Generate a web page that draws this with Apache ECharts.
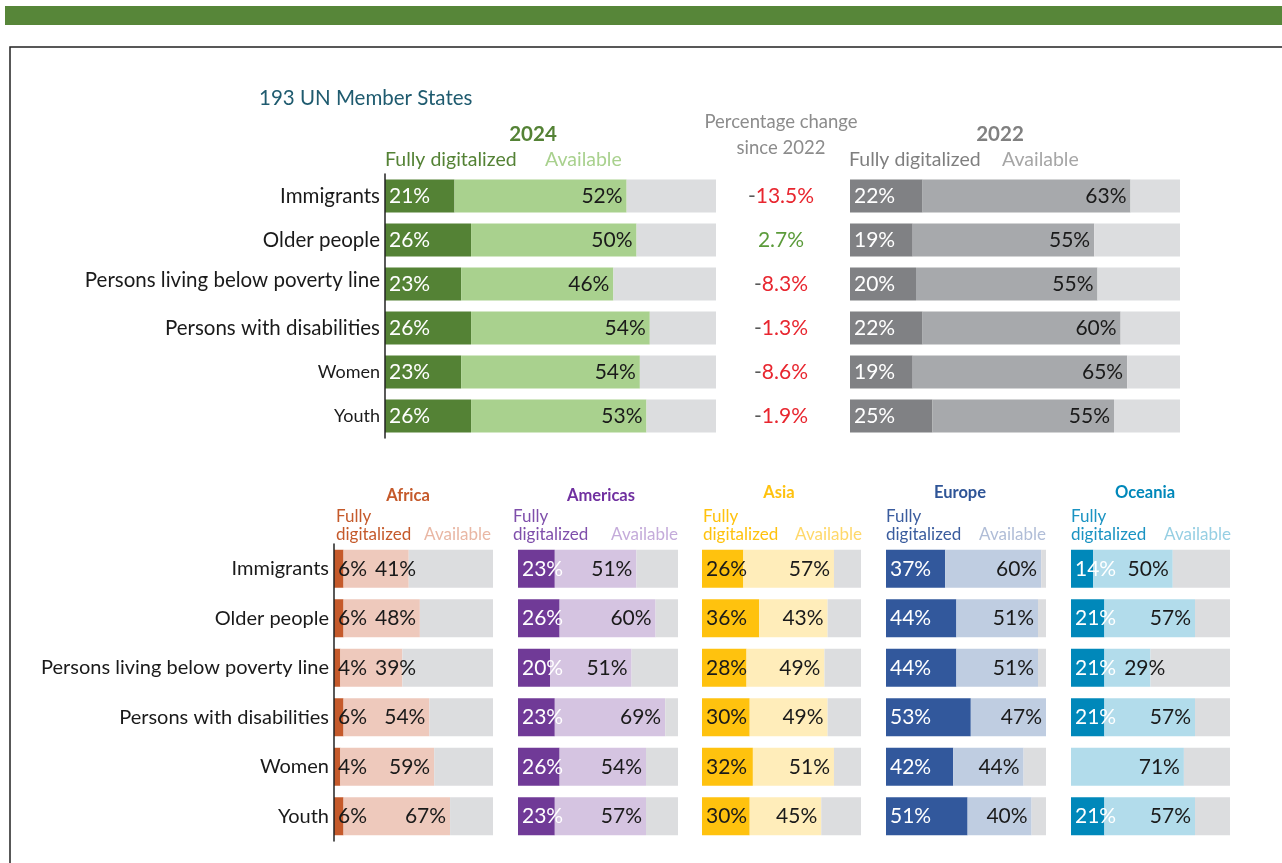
<!DOCTYPE html>
<html>
<head>
<meta charset="utf-8">
<title>Digital services for vulnerable groups</title>
<script src="https://cdn.jsdelivr.net/npm/echarts@6.0.0/dist/echarts.min.js"></script>
<style>
  html, body { margin: 0; padding: 0; background: #ffffff; }
  #chart { width: 1282px; height: 863px; }
</style>
</head>
<body>
<div id="chart"></div>
<script>
// ---- data -------------------------------------------------------------
const groups = ['Immigrants', 'Older people', 'Persons living below poverty line',
                'Persons with disabilities', 'Women', 'Youth'];

const world2024Fully = [21, 26, 23, 26, 23, 26];
const world2024Avail = [52, 50, 46, 54, 54, 53];
const world2022Fully = [22, 19, 20, 22, 19, 25];
const world2022Avail = [63, 55, 55, 60, 65, 55];
const changeSince2022 = [-13.5, 2.7, -8.3, -1.3, -8.6, -1.9];

const regionNames = ['Africa', 'Americas', 'Asia', 'Europe', 'Oceania'];
const africaFully   = [6, 6, 4, 6, 4, 6];
const africaAvail   = [41, 48, 39, 54, 59, 67];
const americasFully = [23, 26, 20, 23, 26, 23];
const americasAvail = [51, 60, 51, 69, 54, 57];
const asiaFully     = [26, 36, 28, 30, 32, 30];
const asiaAvail     = [57, 43, 49, 49, 51, 45];
const europeFully   = [37, 44, 44, 53, 42, 51];
const europeAvail   = [60, 51, 51, 47, 44, 40];
const oceaniaFully  = [14, 21, 21, 21, 0, 21];
const oceaniaAvail  = [50, 57, 29, 57, 71, 57];

// ---- styling ----------------------------------------------------------
const FONT = 'Lato, "Liberation Sans", sans-serif';
const GREY_REST = '#DCDDDF';
const TEXT_DARK = '#1a1a1a';
const LABEL_SIZE = 21;

const measureCtx = document.createElement('canvas').getContext('2d');
function textWidth(str, size) {
  measureCtx.font = size + 'px ' + FONT;
  return measureCtx.measureText(str).width;
}

// panel layout (pixels)
const topBlock = { top: 174, height: 264, barWidth: 33 };
const bottomBlock = { top: 544, height: 297, barWidth: 38 };

const panels = [
  { left: 385, width: 331, block: topBlock, fully: world2024Fully, avail: world2024Avail,
    dark: '#548235', light: '#A9D18E', fullyText: '#ffffff', axis: 'top' },
  { left: 850, width: 330, block: topBlock, fully: world2022Fully, avail: world2022Avail,
    dark: '#808184', light: '#A7A9AC', fullyText: '#ffffff', axis: 'change' },
  { left: 334, width: 159, block: bottomBlock, fully: africaFully, avail: africaAvail,
    dark: '#C55A2B', light: '#EEC9BC', fullyText: TEXT_DARK, axis: 'bottom' },
  { left: 518, width: 160, block: bottomBlock, fully: americasFully, avail: americasAvail,
    dark: '#703A97', light: '#D5C4E1', fullyText: '#ffffff', axis: 'none' },
  { left: 702, width: 159, block: bottomBlock, fully: asiaFully, avail: asiaAvail,
    dark: '#FFC20E', light: '#FFEDBA', fullyText: TEXT_DARK, axis: 'none' },
  { left: 886, width: 160, block: bottomBlock, fully: europeFully, avail: europeAvail,
    dark: '#32589C', light: '#BFCDE1', fullyText: '#ffffff', axis: 'none' },
  { left: 1071, width: 159, block: bottomBlock, fully: oceaniaFully, avail: oceaniaAvail,
    dark: '#0088BA', light: '#B2DCEB', fullyText: '#ffffff', axis: 'none' }
];

// type sizes used for the category names of the top block
const topLabelKey = ['n', 'n', 'b', 'n', 's', 's'];

const grids = [], xAxes = [], yAxes = [], series = [];

panels.forEach((p, i) => {
  grids.push({ left: p.left, width: p.width, top: p.block.top, height: p.block.height,
               containLabel: false });
  xAxes.push({ gridIndex: i, type: 'value', min: 0, max: 100, show: false });

  const y = {
    gridIndex: i, type: 'category', data: groups, inverse: true, z: 10,
    axisTick: { show: false },
    splitLine: { show: false },
    axisLine: { show: p.axis === 'top' || p.axis === 'bottom',
                lineStyle: { color: '#222222', width: 1.5 } },
    axisLabel: { show: false }
  };
  if (p.axis === 'top') {
    y.axisLabel = {
      show: true, margin: 5, color: TEXT_DARK, fontFamily: FONT, fontSize: 20,
      formatter: (v, idx) => '{' + topLabelKey[idx] + '|' + v + '}',
      rich: {
        n: { fontSize: 20.5, fontFamily: FONT, color: TEXT_DARK },
        b: { fontSize: 20.5, fontFamily: FONT, color: TEXT_DARK, padding: [0, 0, 8, 0] },
        s: { fontSize: 18, fontFamily: FONT, color: TEXT_DARK }
      }
    };
  } else if (p.axis === 'bottom') {
    y.axisLabel = { show: true, margin: 5, color: TEXT_DARK, fontFamily: FONT, fontSize: 20 };
  } else if (p.axis === 'change') {
    y.axisLabel = {
      show: true, margin: 69, align: 'center', fontFamily: FONT, fontSize: LABEL_SIZE,
      formatter: (v, idx) => {
        const c = changeSince2022[idx];
        return c < 0 ? '{m|-}{neg|' + Math.abs(c).toFixed(1) + '%}'
                     : '{pos|' + c.toFixed(1) + '%}';
      },
      rich: {
        m:   { color: '#595959', fontSize: LABEL_SIZE, fontFamily: FONT },
        neg: { color: '#E8262F', fontSize: LABEL_SIZE, fontFamily: FONT },
        pos: { color: '#5B9B3A', fontSize: LABEL_SIZE, fontFamily: FONT }
      }
    };
  }
  yAxes.push(y);

  const pxPer = p.width / 100;
  const stack = 'stack' + i;
  const common = { type: 'bar', stack, xAxisIndex: i, yAxisIndex: i,
                   barWidth: p.block.barWidth, animation: false };

  // fully digitalized share
  series.push(Object.assign({}, common, {
    name: 'Fully digitalized', data: p.fully,
    itemStyle: { color: p.dark },
    label: { show: true, position: 'insideLeft', distance: 4, color: p.fullyText,
             fontFamily: FONT, fontSize: LABEL_SIZE,
             formatter: (d) => d.value > 0 ? d.value + '%' : '' }
  }));

  // available share; label nudged right when it would run into the first label
  const availData = p.avail.map((a, k) => {
    const f = p.fully[k];
    const fullyRight = f > 0 ? 4 + textWidth(f + '%', LABEL_SIZE) : 0;
    const availLeft = (f + a) * pxPer - 4 - textWidth(a + '%', LABEL_SIZE);
    const dx = availLeft < fullyRight + 8 ? fullyRight + 8 - availLeft : 0;
    return { value: a, label: { offset: [dx, 0] } };
  });
  series.push(Object.assign({}, common, {
    name: 'Available', data: availData,
    itemStyle: { color: p.light },
    label: { show: true, position: 'insideRight', distance: 4, color: TEXT_DARK,
             fontFamily: FONT, fontSize: LABEL_SIZE, formatter: (d) => d.value + '%' }
  }));

  // remainder up to 100%
  series.push(Object.assign({}, common, {
    name: 'Other', silent: true,
    data: p.fully.map((f, k) => 100 - f - p.avail[k]),
    itemStyle: { color: GREY_REST }
  }));
});

// ---- headings -----------------------------------------------------------
function txt(text, x, y, opts) {
  return {
    type: 'text', x, y, silent: true, z: 20,
    style: Object.assign({ text, fontFamily: FONT, fontSize: 19.5, fill: TEXT_DARK,
                           align: 'left', verticalAlign: 'middle' }, opts || {})
  };
}

const regionHead = [
  { title: '#C55A2B', fullyC: '#C55A2B', availC: '#E9B7A4', cx: 408, hy: 496, fx: 336, ax: 491 },
  { title: '#7030A0', fullyC: '#7F4FAB', availC: '#C4ABDA', cx: 601, hy: 496, fx: 513, ax: 678 },
  { title: '#FFC20E', fullyC: '#FFC20E', availC: '#FFD86A', cx: 779, hy: 493, fx: 703, ax: 862 },
  { title: '#2F5597', fullyC: '#3A5C9E', availC: '#B0BDD7', cx: 960, hy: 493, fx: 886, ax: 1046 },
  { title: '#0088BA', fullyC: '#1A93C2', availC: '#96CFE3', cx: 1145, hy: 493, fx: 1071, ax: 1231 }
];

const graphics = [
  { type: 'rect', silent: true, shape: { x: 5, y: 6, width: 1277, height: 19 },
    style: { fill: '#578639' } },
  { type: 'polyline', silent: true, shape: { points: [[10, 863], [10, 47], [1282, 47]] },
    style: { stroke: '#222222', lineWidth: 1.5, fill: null } },
  txt('193 UN Member States', 259, 98, { fill: '#1F5B6F', fontSize: 20.5 }),
  txt('2024', 533, 134, { fill: '#548235', fontWeight: 'bold', align: 'center', fontSize: 20.5 }),
  txt('Fully digitalized', 385, 160, { fill: '#548235' }),
  txt('Available', 545, 160, { fill: '#A9D18E' }),
  txt('Percentage change', 781, 122, { fill: '#8C8C8C', align: 'center', fontSize: 18.5 }),
  txt('since 2022', 781, 148, { fill: '#8C8C8C', align: 'center', fontSize: 18.5 }),
  txt('2022', 1000, 134, { fill: '#808080', fontWeight: 'bold', align: 'center', fontSize: 20.5 }),
  txt('Fully digitalized', 849, 160, { fill: '#7F7F7F' }),
  txt('Available', 1002, 160, { fill: '#A6A6A6' })
];

regionNames.forEach((name, i) => {
  const r = regionHead[i];
  graphics.push(txt(name, r.cx, r.hy, { fill: r.title, fontWeight: 'bold', fontSize: 16.5, align: 'center' }));
  graphics.push(txt('Fully', r.fx, 517, { fill: r.fullyC, fontSize: 17 }));
  graphics.push(txt('digitalized', r.fx, 535, { fill: r.fullyC, fontSize: 17 }));
  graphics.push(txt('Available', r.ax, 535, { fill: r.availC, fontSize: 17, align: 'right' }));
});

const chart = echarts.init(document.getElementById('chart'), null, { renderer: 'canvas' });
chart.setOption({
  animation: false,
  backgroundColor: '#ffffff',
  textStyle: { fontFamily: FONT },
  grid: grids,
  xAxis: xAxes,
  yAxis: yAxes,
  series,
  graphic: graphics
});
</script>
</body>
</html>
